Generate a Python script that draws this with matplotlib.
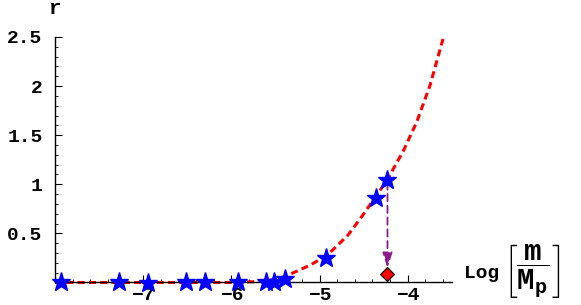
import matplotlib
matplotlib.use('Agg')
import matplotlib.pyplot as plt
from matplotlib.ticker import MultipleLocator

# star points (log mass, r)
star_x = [-7.93, -7.28, -6.95, -6.52, -6.30, -5.93, -5.61, -5.52, -5.39, -4.93, -4.36, -4.23]
star_y = [0.0, 0.0, -0.01, 0.0, 0.0, 0.0, 0.0, 0.01, 0.04, 0.25, 0.86, 1.04]

# dashed fit curve
curve_x = [-8.0, -6.0, -5.7, -5.5, -5.4, -5.27, -5.1, -4.91, -4.68, -4.53, -4.39, -4.23, -4.05, -3.90, -3.75, -3.60]
curve_y = [0.0, 0.0, 0.01, 0.03, 0.06, 0.11, 0.18, 0.28, 0.48, 0.66, 0.84, 1.05, 1.34, 1.63, 2.00, 2.48]

# arrow and diamond marker
arrow_x = -4.23
arrow_top = 1.02
arrow_tip = 0.15
diamond_x = [-4.23]
diamond_y = [0.09]

plt.rcParams['mathtext.fontset'] = 'custom'
plt.rcParams['mathtext.rm'] = 'Liberation Mono:bold'
plt.rcParams['mathtext.bf'] = 'Liberation Mono:bold'
plt.rcParams['mathtext.it'] = 'Liberation Mono:bold'

fig = plt.figure(figsize=(5.81, 3.05), dpi=100)
ax = fig.add_axes([0.0947, 0.0738, 0.683, 0.805])

ax.plot(curve_x, curve_y, color='red', lw=2.2, dashes=(2.3, 1.4), zorder=2, clip_on=False)
ax.plot(star_x, star_y, ls='none', marker='*', ms=14, color='blue', mec='blue', zorder=4, clip_on=False)

ax.annotate('', xy=(arrow_x, arrow_tip), xytext=(arrow_x, arrow_top),
            arrowprops=dict(arrowstyle='-|>,head_length=0.9,head_width=0.3', color='#8b1a8b',
                            lw=1.3, ls=(0, (4, 2.5)), shrinkA=0, shrinkB=0), zorder=3)
ax.plot(diamond_x, diamond_y, ls='none', marker='D', ms=7.5, color='red', mec='black', mew=0.8, zorder=5,
        clip_on=False)

ax.set_xlim(-8.0, -3.5)
ax.set_ylim(0, 2.5)
ax.set_xticks([-7, -6, -5, -4])
ax.set_yticks([0.5, 1, 1.5, 2, 2.5])
ax.set_yticklabels(['0.5', '1', '1.5', '2', '2.5'])
ax.set_xticklabels(['\u22127', '\u22126', '\u22125', '\u22124'])
ax.xaxis.set_minor_locator(MultipleLocator(0.2))
ax.yaxis.set_minor_locator(MultipleLocator(0.1))

for s in ['top', 'right']:
    ax.spines[s].set_visible(False)
for s in ['left', 'bottom']:
    ax.spines[s].set_linewidth(1.0)

ax.tick_params(which='major', direction='in', length=5, width=0.8, pad=3, labelsize=14)
ax.tick_params(which='minor', direction='in', length=2.5, width=0.6)
ax.tick_params(axis='y', pad=9)
for lab in ax.get_xticklabels() + ax.get_yticklabels():
    lab.set_family('Liberation Mono')
    lab.set_fontweight('bold')

fig.text(54 / 581, 1 - 9 / 305, 'r', family='Liberation Mono', weight='bold', fontsize=15,
         ha='center', va='center')
fig.text(464 / 581, 1 - 273 / 305, 'Log', family='Liberation Mono', weight='bold', fontsize=14,
         ha='left', va='center')
fig.text(503 / 581, 1 - 272 / 305, r'$\left[\dfrac{\mathrm{m}}{\mathrm{M}_{\mathrm{p}}}\right]$',
         fontsize=21, ha='left', va='center')

plt.savefig('out.png', dpi=100)
